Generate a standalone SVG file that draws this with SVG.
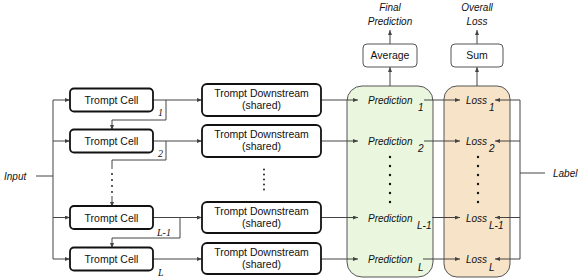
<svg xmlns="http://www.w3.org/2000/svg" width="581" height="278" viewBox="0 0 581 278">
<defs>
<style>
.cell{fill:#fff;stroke:#111;stroke-width:1.8}
.box{fill:#fff;stroke:#555;stroke-width:1}
.t{font-family:"Liberation Sans",Arial,sans-serif;font-size:10.5px;fill:#111;text-anchor:middle}
.i{font-family:"Liberation Sans",Arial,sans-serif;font-size:10px;font-style:italic;fill:#111}
.s{font-family:"Liberation Sans",Arial,sans-serif;font-size:10px;font-style:italic;fill:#111}
.m{font-family:"Liberation Serif","Times New Roman",serif;font-size:10px;font-style:italic;fill:#111}
.ln{fill:none;stroke:#444;stroke-width:1}
.a{marker-end:url(#ah)}
.dot{fill:#111}
</style>
<marker id="ah" markerUnits="userSpaceOnUse" markerWidth="5" markerHeight="4" refX="5" refY="2" orient="auto">
<path d="M0,0 L5,2 L0,4 z" fill="#444"/>
</marker>
</defs>
<rect width="581" height="278" fill="#fff"/>

<g id="prediction-group">
<rect x="347" y="86" width="86" height="191" rx="15" fill="#EAF6DE" stroke="#555" stroke-width="1"/>
</g>
<g id="loss-group">
<rect x="444" y="86" width="66" height="191" rx="13" fill="#F6E3C8" stroke="#555" stroke-width="1"/>
</g>

<g id="connectors">
<!-- input -->
<path class="ln" d="M36,176 H53 M53,100 V259"/>
<path class="ln a" d="M53,100 H70"/>
<path class="ln a" d="M53,141 H70"/>
<path class="ln a" d="M53,217.5 H70"/>
<path class="ln a" d="M53,259 H70"/>
<!-- cell to downstream -->
<path class="ln a" d="M153,100 H202"/>
<path class="ln a" d="M153,141 H202"/>
<path class="ln a" d="M153,217.5 H202"/>
<path class="ln a" d="M153,259 H202"/>
<!-- feedback -->
<path class="ln a" d="M166,100 V120 H112 V130"/>
<path class="ln" d="M166,141 V160 H112 V169"/>
<circle class="dot" cx="112" cy="174" r="0.9"/>
<circle class="dot" cx="112" cy="180" r="0.9"/>
<circle class="dot" cx="112" cy="186" r="0.9"/>
<circle class="dot" cx="112" cy="192" r="0.9"/>
<path class="ln a" d="M112,196 V207"/>
<path class="ln a" d="M153,217.5 H180 V238 H112 V248"/>
<!-- downstream to prediction -->
<path class="ln a" d="M321,100 H358"/>
<path class="ln a" d="M321,141 H358"/>
<path class="ln a" d="M321,217.5 H358"/>
<path class="ln a" d="M321,259 H358"/>
<!-- prediction to loss -->
<path class="ln a" d="M424,100 H460"/>
<path class="ln a" d="M424,141 H460"/>
<path class="ln a" d="M432,217.5 H460"/>
<path class="ln a" d="M423,259 H460"/>
<!-- label -->
<path class="ln" d="M520,100 V259 M520,173 H545"/>
<path class="ln a" d="M520,100 H495"/>
<path class="ln a" d="M520,141 H495"/>
<path class="ln a" d="M520,217.5 H495"/>
<path class="ln a" d="M520,259 H495"/>
<!-- aggregation -->
<path class="ln a" d="M390,86 V67"/>
<path class="ln a" d="M390,44 V30"/>
<path class="ln a" d="M477,86 V67"/>
<path class="ln a" d="M477,44 V30"/>
</g>

<g id="input"><text class="i" x="4" y="180">Input</text></g>
<g id="label"><text class="i" x="553" y="177">Label</text></g>

<g id="cell-1">
<rect class="cell" x="70" y="88.5" width="83" height="23" rx="4"/>
<text class="t" x="111.5" y="104">Trompt Cell</text>
<text class="m" x="158" y="116">1</text>
</g>
<g id="cell-2">
<rect class="cell" x="70" y="129.5" width="83" height="23" rx="4"/>
<text class="t" x="111.5" y="145">Trompt Cell</text>
<text class="m" x="158" y="157">2</text>
</g>
<g id="cell-L-1">
<rect class="cell" x="70" y="206" width="83" height="23" rx="4"/>
<text class="t" x="111.5" y="221.5">Trompt Cell</text>
<text class="m" x="157" y="236">L-1</text>
</g>
<g id="cell-L">
<rect class="cell" x="70" y="247.5" width="83" height="23" rx="4"/>
<text class="t" x="111.5" y="263">Trompt Cell</text>
<text class="m" x="158" y="276">L</text>
</g>

<g id="downstream-1">
<rect class="cell" x="202" y="84" width="119" height="32" rx="5"/>
<text class="t" x="261.5" y="97">Trompt Downstream</text>
<text class="t" x="261.5" y="109">(shared)</text>
</g>
<g id="downstream-2">
<rect class="cell" x="202" y="125" width="119" height="32" rx="5"/>
<text class="t" x="261.5" y="138">Trompt Downstream</text>
<text class="t" x="261.5" y="150">(shared)</text>
</g>
<g id="downstream-dots">
<circle class="dot" cx="264" cy="169.5" r="0.9"/>
<circle class="dot" cx="264" cy="174.5" r="0.9"/>
<circle class="dot" cx="264" cy="179.5" r="0.9"/>
<circle class="dot" cx="264" cy="184.5" r="0.9"/>
<circle class="dot" cx="264" cy="189.5" r="0.9"/>
</g>
<g id="downstream-L-1">
<rect class="cell" x="202" y="202" width="119" height="31" rx="5"/>
<text class="t" x="261.5" y="214.5">Trompt Downstream</text>
<text class="t" x="261.5" y="226.5">(shared)</text>
</g>
<g id="downstream-L">
<rect class="cell" x="202" y="243" width="119" height="31" rx="5"/>
<text class="t" x="261.5" y="255.5">Trompt Downstream</text>
<text class="t" x="261.5" y="267.5">(shared)</text>
</g>

<g id="predictions">
<text class="i" x="368" y="104">Prediction</text><text class="s" x="418" y="111">1</text>
<text class="i" x="368" y="145">Prediction</text><text class="s" x="418" y="152">2</text>
<text class="i" x="368" y="221.5">Prediction</text><text class="s" x="417" y="229">L-1</text>
<text class="i" x="368" y="263">Prediction</text><text class="s" x="418" y="271">L</text>
<circle class="dot" cx="390" cy="157" r="1.2"/>
<circle class="dot" cx="390" cy="166" r="1.2"/>
<circle class="dot" cx="390" cy="175" r="1.2"/>
<circle class="dot" cx="390" cy="184" r="1.2"/>
<circle class="dot" cx="390" cy="193" r="1.2"/>
<circle class="dot" cx="390" cy="202" r="1.2"/>
</g>
<g id="losses">
<text class="i" x="466" y="104">Loss</text><text class="s" x="489" y="111">1</text>
<text class="i" x="466" y="145">Loss</text><text class="s" x="489" y="152">2</text>
<text class="i" x="466" y="221.5">Loss</text><text class="s" x="489" y="229">L-1</text>
<text class="i" x="466" y="263">Loss</text><text class="s" x="489" y="271">L</text>
<circle class="dot" cx="478" cy="157" r="1.2"/>
<circle class="dot" cx="478" cy="166" r="1.2"/>
<circle class="dot" cx="478" cy="175" r="1.2"/>
<circle class="dot" cx="478" cy="184" r="1.2"/>
<circle class="dot" cx="478" cy="193" r="1.2"/>
<circle class="dot" cx="478" cy="202" r="1.2"/>
</g>

<g id="average">
<rect class="box" x="363" y="44" width="54" height="23" rx="4"/>
<text class="t" x="390" y="59">Average</text>
</g>
<g id="sum">
<rect class="box" x="451" y="44" width="52" height="23" rx="4"/>
<text class="t" x="477" y="59">Sum</text>
</g>
<g id="final-prediction">
<text class="i" x="390" y="11" text-anchor="middle">Final</text>
<text class="i" x="390" y="25" text-anchor="middle">Prediction</text>
</g>
<g id="overall-loss">
<text class="i" x="477" y="11" text-anchor="middle">Overall</text>
<text class="i" x="477" y="25" text-anchor="middle">Loss</text>
</g>
</svg>
